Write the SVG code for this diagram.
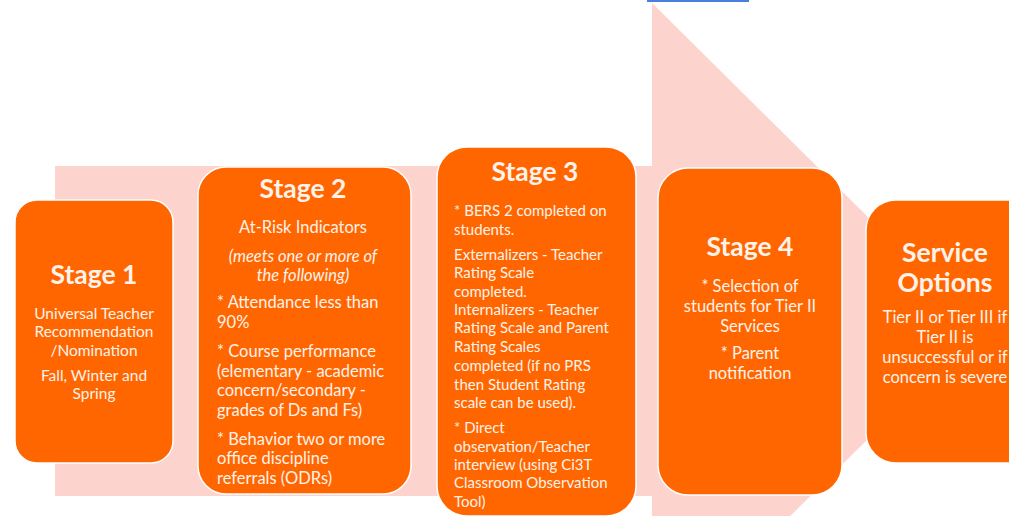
<svg xmlns="http://www.w3.org/2000/svg" width="1009" height="516" viewBox="0 0 1009 516">
<style>
.box{fill:#FF6600;stroke:#FFFFFF;stroke-width:1.5}
text{font-family:Lato,"Open Sans","Liberation Sans",sans-serif;fill:#FFF2EA}
.t{font-weight:bold;font-size:26.5px;text-anchor:middle}
.c{text-anchor:middle}
.s1{font-size:15.5px}
.s2{font-size:16.5px}
.s3{font-size:15px}
.s4{font-size:16.5px}
</style>
<rect width="1009" height="516" fill="#FFFFFF"/>
<g id="background-arrow">
<polygon points="55,166 652,166 652,3 980,328 652,653 652,496 55,496" fill="#FDD3CD"/>
<rect x="647" y="0" width="102" height="2" fill="#4A7FE0"/>
</g>
<g id="connectors"></g>
<g id="stage1">
<rect class="box" x="15" y="200" width="158" height="263" rx="22"/>
<text class="t" x="94" y="284">Stage 1</text>
<text class="c s1" x="94" y="319">Universal Teacher</text>
<text class="c s1" x="94" y="337">Recommendation</text>
<text class="c s1" x="94" y="356">/Nomination</text>
<text class="c s1" x="94" y="381">Fall, Winter and</text>
<text class="c s1" x="94" y="399">Spring</text>
</g>
<g id="stage2">
<rect class="box" x="198" y="167" width="213" height="327" rx="28"/>
<text class="t" x="303" y="198">Stage 2</text>
<text class="c s2" x="303" y="233">At-Risk Indicators</text>
<text class="c s2" x="303" y="262" font-style="italic">(meets one or more of</text>
<text class="c s2" x="303" y="281" font-style="italic">the following)</text>
<text class="s2" x="217" y="308">* Attendance less than</text>
<text class="s2" x="217" y="328">90%</text>
<text class="s2" x="217" y="357">* Course performance</text>
<text class="s2" x="217" y="377">(elementary - academic</text>
<text class="s2" x="217" y="396">concern/secondary -</text>
<text class="s2" x="217" y="416">grades of Ds and Fs)</text>
<text class="s2" x="217" y="445">* Behavior two or more</text>
<text class="s2" x="217" y="464">office discipline</text>
<text class="s2" x="217" y="484">referrals (ODRs)</text>
</g>
<g id="stage3">
<rect class="box" x="437" y="147" width="199" height="369" rx="30"/>
<text class="t" x="535" y="181">Stage 3</text>
<text class="s3" x="454" y="216">* BERS 2 completed on</text>
<text class="s3" x="454" y="235">students.</text>
<text class="s3" x="454" y="260">Externalizers - Teacher</text>
<text class="s3" x="454" y="278">Rating Scale</text>
<text class="s3" x="454" y="297">completed.</text>
<text class="s3" x="454" y="315">Internalizers - Teacher</text>
<text class="s3" x="454" y="333">Rating Scale and Parent</text>
<text class="s3" x="454" y="352">Rating Scales</text>
<text class="s3" x="454" y="371">completed (if no PRS</text>
<text class="s3" x="454" y="390">then Student Rating</text>
<text class="s3" x="454" y="408">scale can be used).</text>
<text class="s3" x="454" y="433">* Direct</text>
<text class="s3" x="454" y="452">observation/Teacher</text>
<text class="s3" x="454" y="470">interview (using Ci3T</text>
<text class="s3" x="454" y="488">Classroom Observation</text>
<text class="s3" x="454" y="507">Tool)</text>
</g>
<g id="stage4">
<rect class="box" x="658" y="168" width="184" height="327" rx="30"/>
<text class="t" x="750" y="256">Stage 4</text>
<text class="c s4" x="750" y="292">* Selection of</text>
<text class="c s4" x="750" y="312">students for Tier II</text>
<text class="c s4" x="750" y="332">Services</text>
<text class="c s4" x="750" y="359">* Parent</text>
<text class="c s4" x="750" y="379">notification</text>
</g>
<g id="service-options">
<rect class="box" x="866" y="200" width="175" height="263" rx="30"/>
<text class="t" x="945" y="262">Service</text>
<text class="t" x="945" y="292">Options</text>
<text class="c s4" x="945" y="323">Tier II or Tier III if</text>
<text class="c s4" x="945" y="343">Tier II is</text>
<text class="c s4" x="945" y="363">unsuccessful or if</text>
<text class="c s4" x="945" y="383">concern is severe</text>
</g>
</svg>
